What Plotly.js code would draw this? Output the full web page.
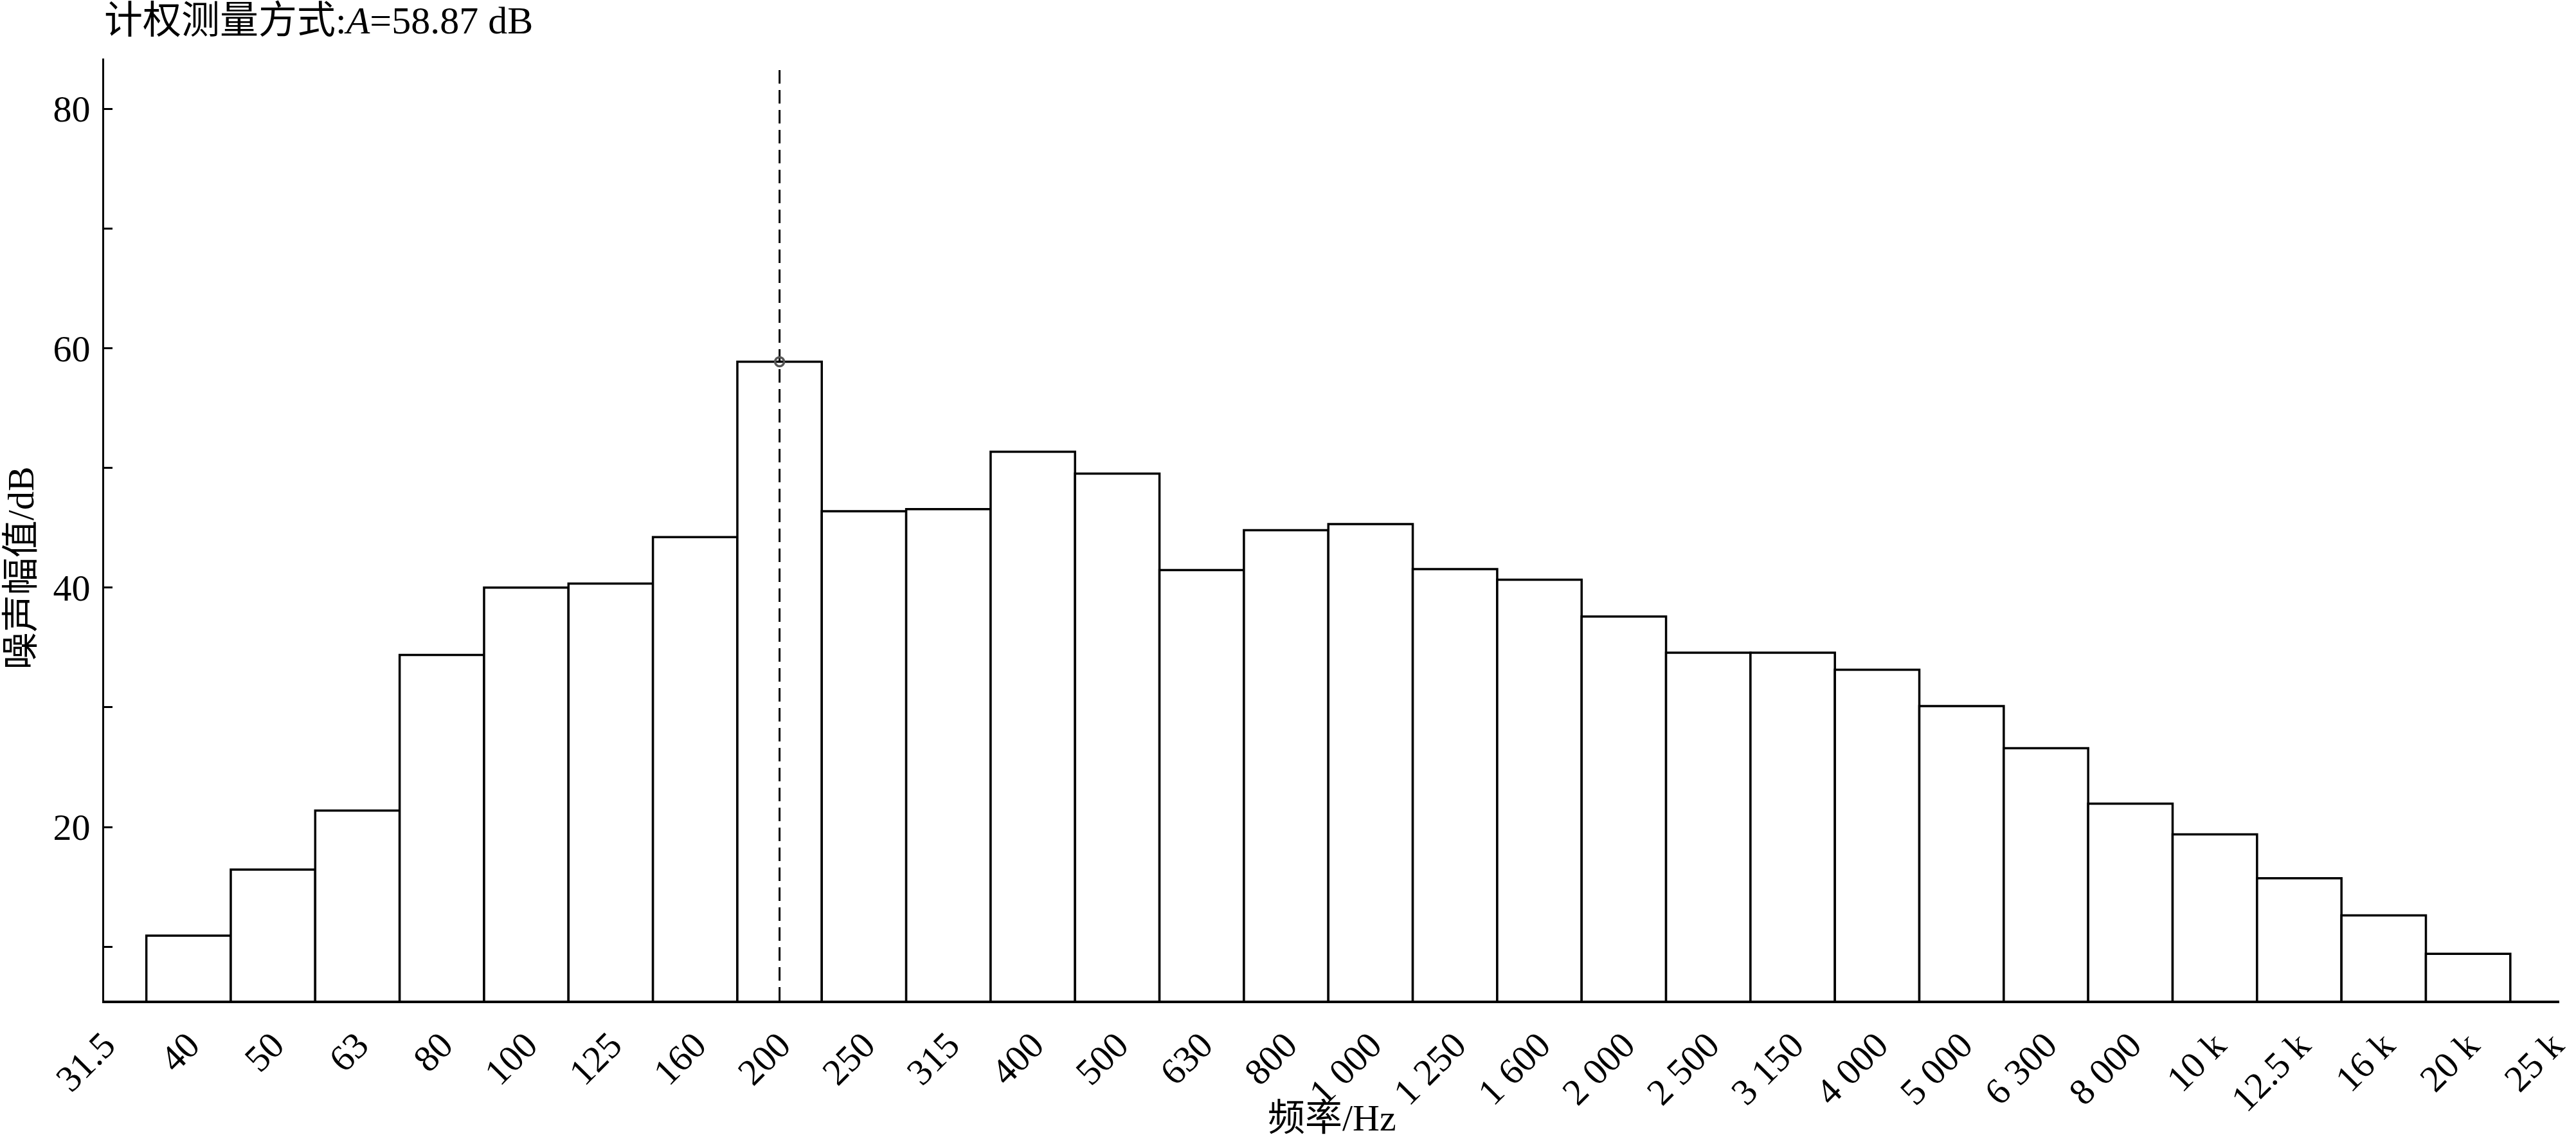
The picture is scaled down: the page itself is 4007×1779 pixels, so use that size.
<!DOCTYPE html>
<html>
<head>
<meta charset="utf-8">
<script src="https://cdn.plot.ly/plotly-3.0.1.min.js"></script>
<style>html,body{margin:0;padding:0;background:#fff;}#chart{width:4007px;height:1779px;}</style>
</head>
<body>
<div id="chart"></div>
<script>
// Tick labels at positions 0 .. 29
const tickLabels = ['31.5','40','50','63','80','100','125','160','200','250','315','400','500','630','800',
  '1 000','1 250','1 600','2 000','2 500','3 150','4 000','5 000','6 300','8 000','10 k','12.5 k','16 k','20 k','25 k'];
// Bars: one per band from 40 Hz to 20 kHz (tick positions 1 .. 28)
const barBands = ['40','50','63','80','100','125','160','200','250','315','400','500','630','800',
  '1 000','1 250','1 600','2 000','2 500','3 150','4 000','5 000','6 300','8 000','10 k','12.5 k','16 k','20 k'];
const noiseDb = [10.93, 16.44, 21.38, 34.38, 40.0, 40.34, 44.22, 58.87, 46.38, 46.55, 51.35, 49.52, 41.46, 44.79,
  45.30, 41.55, 40.66, 37.58, 34.56, 34.56, 33.14, 30.11, 26.59, 21.95, 19.39, 15.72, 12.62, 9.41];
// Peak marker (A-weighted result) and cursor line
const peakBand = '200';
const peakValue = 58.87;
const yRange = [5.5, 84.2];
const cursorTop = 83.6;
const xRange = [0, 29.08];

const tickPos = tickLabels.map((_, i) => i);
const barPos = barBands.map(b => tickLabels.indexOf(b));
const peakPos = tickLabels.indexOf(peakBand);

const serif = 'Liberation Serif, "Noto Sans CJK SC", serif';

const traces = [
  {
    type: 'bar',
    x: barPos,
    y: noiseDb,
    width: 1,
    marker: {color: '#ffffff', line: {color: '#000000', width: 3.5}},
    hoverinfo: 'skip',
    showlegend: false
  },
  {
    type: 'scatter',
    mode: 'lines',
    x: [peakPos, peakPos],
    y: [yRange[0], cursorTop],
    line: {color: '#000000', width: 3, dash: '21px,10px'},
    hoverinfo: 'skip',
    showlegend: false
  },
  {
    type: 'scatter',
    mode: 'markers',
    x: [peakPos],
    y: [peakValue],
    marker: {symbol: 'circle-open', size: 14, color: '#555555', line: {width: 3.5, color: '#555555'}},
    hoverinfo: 'skip',
    showlegend: false
  }
];

const layout = {
  width: 4007,
  height: 1779,
  margin: {l: 162, r: 26, t: 91, b: 223, pad: 0},
  paper_bgcolor: '#ffffff',
  plot_bgcolor: '#ffffff',
  font: {family: serif, size: 57, color: '#000000'},
  title: {
    text: '计权测量方式:<i>A</i>=58.87 dB',
    font: {family: serif, size: 60, color: '#000000'},
    xref: 'paper', x: 0, xanchor: 'left',
    yref: 'container', y: 1 - 10 / 1779, yanchor: 'top'
  },
  xaxis: {
    range: xRange,
    tickmode: 'array',
    tickvals: tickPos,
    ticktext: tickLabels,
    tickangle: -45,
    ticks: '',
    showgrid: false,
    zeroline: false,
    showline: true,
    linecolor: '#000000',
    linewidth: 4,
    tickfont: {family: serif, size: 58, color: '#000000'},
    ticklabelstandoff: 8
  },
  yaxis: {
    range: yRange,
    tickmode: 'linear',
    tick0: 0,
    dtick: 20,
    ticks: 'inside',
    ticklen: 13,
    tickwidth: 3,
    tickcolor: '#000000',
    minor: {dtick: 10, tick0: 0, ticks: 'inside', ticklen: 13, tickwidth: 3, tickcolor: '#000000', showgrid: false},
    showgrid: false,
    zeroline: false,
    showline: true,
    linecolor: '#000000',
    linewidth: 3,
    tickfont: {family: serif, size: 58, color: '#000000'},
    ticklabelstandoff: 7
  },
  annotations: [
    {
      text: '噪声幅值/dB',
      xref: 'paper', yref: 'paper',
      x: 0, y: 0.4593,
      xshift: -130,
      xanchor: 'center', yanchor: 'middle',
      textangle: -90,
      showarrow: false,
      font: {family: serif, size: 58, color: '#000000'}
    },
    {
      text: '频率/Hz',
      xref: 'paper', yref: 'paper',
      x: 0.5, y: 0,
      yshift: -182,
      xanchor: 'center', yanchor: 'middle',
      showarrow: false,
      font: {family: serif, size: 58, color: '#000000'}
    }
  ]
};

Plotly.newPlot('chart', traces, layout, {staticPlot: true, displayModeBar: false});
</script>
</body>
</html>
